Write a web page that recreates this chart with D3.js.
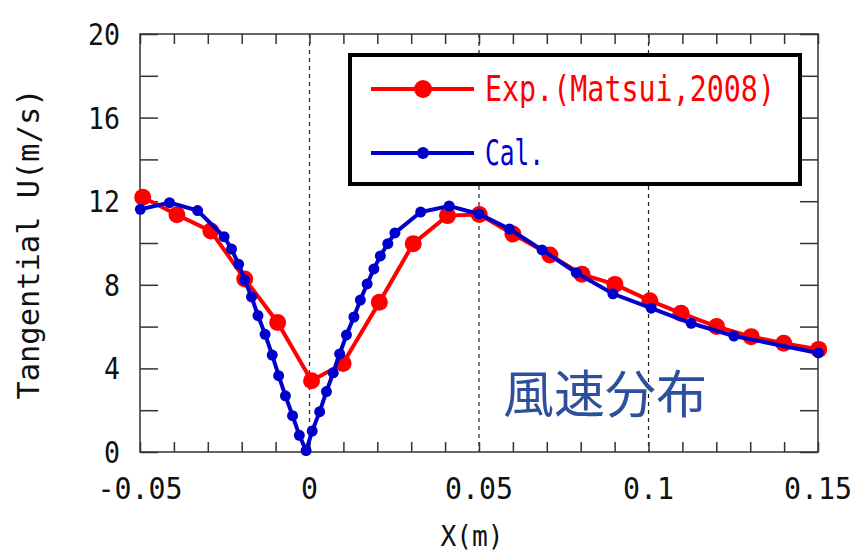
<!DOCTYPE html>
<html>
<head>
<meta charset="utf-8">
<script src="https://d3js.org/d3.v7.min.js"></script>
<style>
  body { margin: 0; background: #fff; }
  text { font-family: "DejaVu Sans Mono", "Liberation Mono", monospace; }
</style>
</head>
<body>
<div id="chart"></div>
<script>
  // Exp. (Matsui, 2008)
  var expX = [-0.0492, -0.0391, -0.0291, -0.0191, -0.0094, 0.0006, 0.0099, 0.0206, 0.0306, 0.0407,
              0.0501, 0.0600, 0.0709, 0.0804, 0.0901, 0.1004, 0.1096, 0.1201, 0.1303, 0.1399, 0.1502];
  var expU = [12.19, 11.35, 10.57, 8.28, 6.20, 3.41, 4.24, 7.16, 9.97, 11.31,
              11.36, 10.43, 9.43, 8.50, 8.02, 7.24, 6.64, 6.00, 5.52, 5.20, 4.91];

  // Cal.
  var calX = [-0.0499, -0.0413, -0.0330, -0.0252, -0.0230, -0.0209, -0.0191, -0.0171, -0.0152, -0.0131,
              -0.0110, -0.0091, -0.0071, -0.0050, -0.0030, -0.0010, 0.0008, 0.0030, 0.0050, 0.0070,
              0.0089, 0.0109, 0.0131, 0.0150, 0.0170, 0.0190, 0.0209, 0.0231, 0.0252, 0.0328,
              0.0412, 0.0500, 0.0590, 0.0686, 0.0787, 0.0895, 0.1008, 0.1126, 0.1252, 0.1501];
  var calU = [11.61, 11.93, 11.55, 10.30, 9.71, 8.98, 8.23, 7.42, 6.53, 5.63,
              4.64, 3.65, 2.69, 1.74, 0.80, 0.07, 1.00, 1.93, 2.89, 3.79,
              4.69, 5.60, 6.46, 7.27, 8.04, 8.76, 9.38, 9.97, 10.48, 11.48,
              11.77, 11.39, 10.67, 9.67, 8.58, 7.57, 6.88, 6.16, 5.55, 4.74];

  var xTicks = [-0.05, 0, 0.05, 0.1, 0.15];
  var xTickLabels = ['-0.05', '0', '0.05', '0.1', '0.15'];
  var yTicks = [0, 4, 8, 12, 16, 20];
  var gridX = [0, 0.05, 0.1];

  var W = 858, H = 559;
  var margin = {top: 34, right: 40, bottom: 107, left: 140};
  var width = W - margin.left - margin.right;
  var height = H - margin.top - margin.bottom;

  var x = d3.scaleLinear().domain([-0.05, 0.15]).range([0, width]);
  var y = d3.scaleLinear().domain([0, 20]).range([height, 0]);

  var svg = d3.select('#chart').append('svg')
      .attr('width', W).attr('height', H);
  var g = svg.append('g')
      .attr('transform', 'translate(' + margin.left + ',' + margin.top + ')');

  // squeeze mono text to look like the narrow gothic in the original
  function squeeze(sel, charW) {
    sel.each(function() {
      var t = d3.select(this);
      t.attr('textLength', t.text().length * charW)
       .attr('lengthAdjust', 'spacingAndGlyphs');
    });
  }

  // dashed grid lines
  g.selectAll('.grid').data(gridX).enter().append('line')
      .attr('x1', function(d) { return x(d); }).attr('x2', function(d) { return x(d); })
      .attr('y1', 0).attr('y2', height)
      .style('stroke', '#222').style('stroke-width', 1.2)
      .style('stroke-dasharray', '4,4');

  // inward ticks on all four sides
  var minorX = d3.range(-0.05, 0.1501, 0.01);
  var minorY = d3.range(0, 20.01, 2);
  g.append('g').call(d3.axisBottom(x).tickValues(minorX).tickSize(-10).tickFormat(''))
      .attr('transform', 'translate(0,' + height + ')');
  g.append('g').call(d3.axisTop(x).tickValues(minorX).tickSize(-10).tickFormat(''));
  g.append('g').call(d3.axisLeft(y).tickValues(minorY).tickSize(-18).tickFormat(''));
  g.append('g').call(d3.axisRight(y).tickValues(minorY).tickSize(-18).tickFormat(''))
      .attr('transform', 'translate(' + width + ',0)');
  g.selectAll('.domain').remove();
  g.selectAll('.tick line').style('stroke', '#333').style('stroke-width', 1.5);

  // frame
  g.append('rect').attr('x', 0).attr('y', 0).attr('width', width).attr('height', height)
      .style('fill', 'none').style('stroke', '#333').style('stroke-width', 1.5);

  // tick labels
  var xl = g.append('g').selectAll('text').data(xTicks).enter().append('text')
      .attr('x', function(d) { return x(d); })
      .attr('y', height + 47)
      .attr('text-anchor', 'middle')
      .style('font-size', '31px').style('fill', '#111')
      .text(function(d, i) { return xTickLabels[i]; });
  squeeze(xl, 17);

  var yl = g.append('g').selectAll('text').data(yTicks).enter().append('text')
      .attr('x', -20)
      .attr('y', function(d) { return y(d) + 11; })
      .attr('text-anchor', 'end')
      .style('font-size', '31px').style('fill', '#111')
      .text(function(d) { return d; });
  squeeze(yl, 16);

  // axis titles
  var xt = svg.append('text').attr('x', 472).attr('y', 546)
      .attr('text-anchor', 'middle')
      .style('font-size', '29px').style('fill', '#111')
      .text('X(m)');
  squeeze(xt, 15.8);

  var yt = svg.append('text')
      .attr('transform', 'translate(39,244) rotate(-90)')
      .attr('text-anchor', 'middle')
      .style('font-size', '30px').style('fill', '#111')
      .text('Tangential U(m/s)');
  squeeze(yt, 18.3);

  var line = d3.line()
      .x(function(d) { return x(d[0]); })
      .y(function(d) { return y(d[1]); });

  var expData = expX.map(function(v, i) { return [v, expU[i]]; });
  var calData = calX.map(function(v, i) { return [v, calU[i]]; });

  var red = '#ff0000', blue = '#0000cc';

  g.append('path').attr('d', line(expData))
      .style('fill', 'none').style('stroke', red).style('stroke-width', 4);
  g.selectAll('.exp').data(expData).enter().append('circle')
      .attr('cx', function(d) { return x(d[0]); })
      .attr('cy', function(d) { return y(d[1]); })
      .attr('r', 8.5).style('fill', red);

  g.append('path').attr('d', line(calData))
      .style('fill', 'none').style('stroke', blue).style('stroke-width', 4);
  g.selectAll('.cal').data(calData).enter().append('circle')
      .attr('cx', function(d) { return x(d[0]); })
      .attr('cy', function(d) { return y(d[1]); })
      .attr('r', 5.5).style('fill', blue);

  // legend
  var lg = svg.append('g');
  lg.append('rect').attr('x', 350).attr('y', 55).attr('width', 450).attr('height', 129)
      .style('fill', '#fff').style('stroke', '#000').style('stroke-width', 4);
  lg.append('line').attr('x1', 371).attr('x2', 474).attr('y1', 89).attr('y2', 89)
      .style('stroke', red).style('stroke-width', 4);
  lg.append('circle').attr('cx', 423).attr('cy', 89).attr('r', 9).style('fill', red);
  lg.append('line').attr('x1', 371).attr('x2', 474).attr('y1', 153).attr('y2', 153)
      .style('stroke', blue).style('stroke-width', 4);
  lg.append('circle').attr('cx', 423).attr('cy', 153).attr('r', 6).style('fill', blue);
  lg.append('text').attr('x', 485).attr('y', 101)
      .attr('textLength', 290).attr('lengthAdjust', 'spacingAndGlyphs')
      .style('font-size', '35px').style('fill', red)
      .text('Exp.(Matsui,2008)');
  lg.append('text').attr('x', 485).attr('y', 165)
      .attr('textLength', 59).attr('lengthAdjust', 'spacingAndGlyphs')
      .style('font-size', '35px').style('fill', blue)
      .text('Cal.');

  // Japanese annotation
  svg.append('text').attr('x', 503).attr('y', 413)
      .style('font-family', '"Noto Sans CJK JP", sans-serif')
      .style('font-size', '51px').style('fill', '#2c4f9e')
      .text('風速分布');
</script>
</body>
</html>
